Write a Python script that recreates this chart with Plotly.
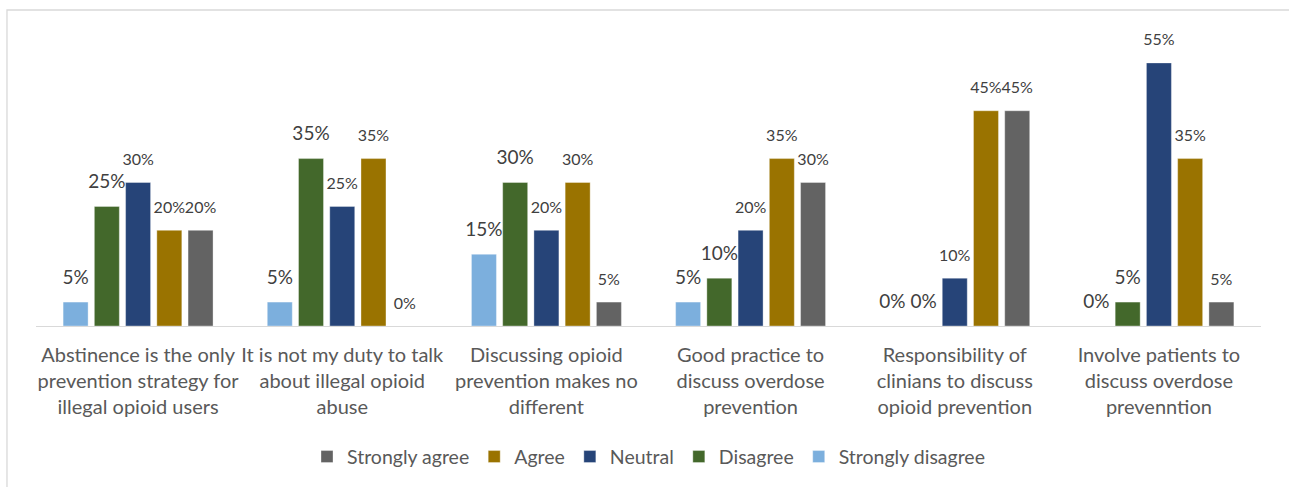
import plotly.graph_objects as go

# Survey statements (category axis)
categories = [
    "Abstinence is the only<br>prevention strategy for<br>illegal opioid users",
    "It is not my duty to talk<br>about illegal opioid<br>abuse",
    "Discussing opioid<br>prevention makes no<br>different",
    "Good practice to<br>discuss overdose<br>prevention",
    "Responsibility of<br>clinians to discuss<br>opioid prevention",
    "Involve patients to<br>discuss overdose<br>prevenntion",
]

# Percentage of respondents per answer
strongly_disagree = [5, 5, 15, 5, 0, 0]
disagree = [25, 35, 30, 10, 0, 5]
neutral = [30, 25, 20, 20, 10, 55]
agree = [20, 35, 30, 35, 45, 35]
strongly_agree = [20, 0, 5, 30, 45, 5]

series_names = ["Strongly disagree", "Disagree", "Neutral", "Agree", "Strongly agree"]
series_values = [strongly_disagree, disagree, neutral, agree, strongly_agree]
series_colors = ["#7cafdd", "#43682b", "#264478", "#9a7300", "#636363"]
label_sizes = [19, 19, 16, 16, 16]

FONT = "Lato, 'Open Sans', sans-serif"
BAR_GAP = 0.235

fig = go.Figure()

for name, vals, color in zip(series_names, series_values, series_colors):
    fig.add_trace(go.Bar(
        name=name,
        x=categories,
        y=vals,
        offsetgroup=name,
        marker=dict(color=color, line=dict(color="rgba(255,255,255,0.35)", width=1)),
        hoverinfo="skip",
    ))

# Value labels, grouped the same way as the bars
for name, vals, size in zip(series_names, series_values, label_sizes):
    fig.add_trace(go.Scatter(
        x=categories,
        y=vals,
        offsetgroup=name,
        mode="markers+text",
        marker=dict(size=20, opacity=0),
        text=[f"{v}%" for v in vals],
        textposition="top center",
        textfont=dict(family=FONT, size=size, color="#404040"),
        cliponaxis=False,
        showlegend=False,
        hoverinfo="skip",
    ))

fig.update_layout(
    width=1289,
    height=487,
    margin=dict(l=36, r=28, t=39, b=161, autoexpand=False),
    paper_bgcolor="white",
    plot_bgcolor="white",
    barmode="group",
    bargap=BAR_GAP,
    bargroupgap=0.2,
    scattermode="group",
    scattergap=BAR_GAP,
    font=dict(family=FONT, color="#595959"),
    xaxis=dict(
        showline=True,
        linecolor="#d9d9d9",
        linewidth=1.3,
        ticks="",
        tickangle=0,
        automargin=False,
        ticklabelstandoff=11,
        showgrid=False,
        tickfont=dict(family=FONT, size=20, color="#595959"),
        fixedrange=True,
    ),
    yaxis=dict(
        range=[0, 60],
        visible=False,
        showgrid=False,
        fixedrange=True,
    ),
    legend=dict(
        orientation="h",
        x=0.5,
        xanchor="center",
        y=-0.456,
        yanchor="middle",
        traceorder="reversed",
        font=dict(family=FONT, size=19.5, color="#595959"),
        itemwidth=30,
    ),
    shapes=[
        dict(
            type="rect",
            xref="paper",
            yref="paper",
            x0=-0.0237,
            x1=1.1,
            y0=-0.7,
            y1=1.101,
            line=dict(color="#d9d9d9", width=1.3),
            layer="below",
        )
    ],
)

fig.write_html("out.html")
